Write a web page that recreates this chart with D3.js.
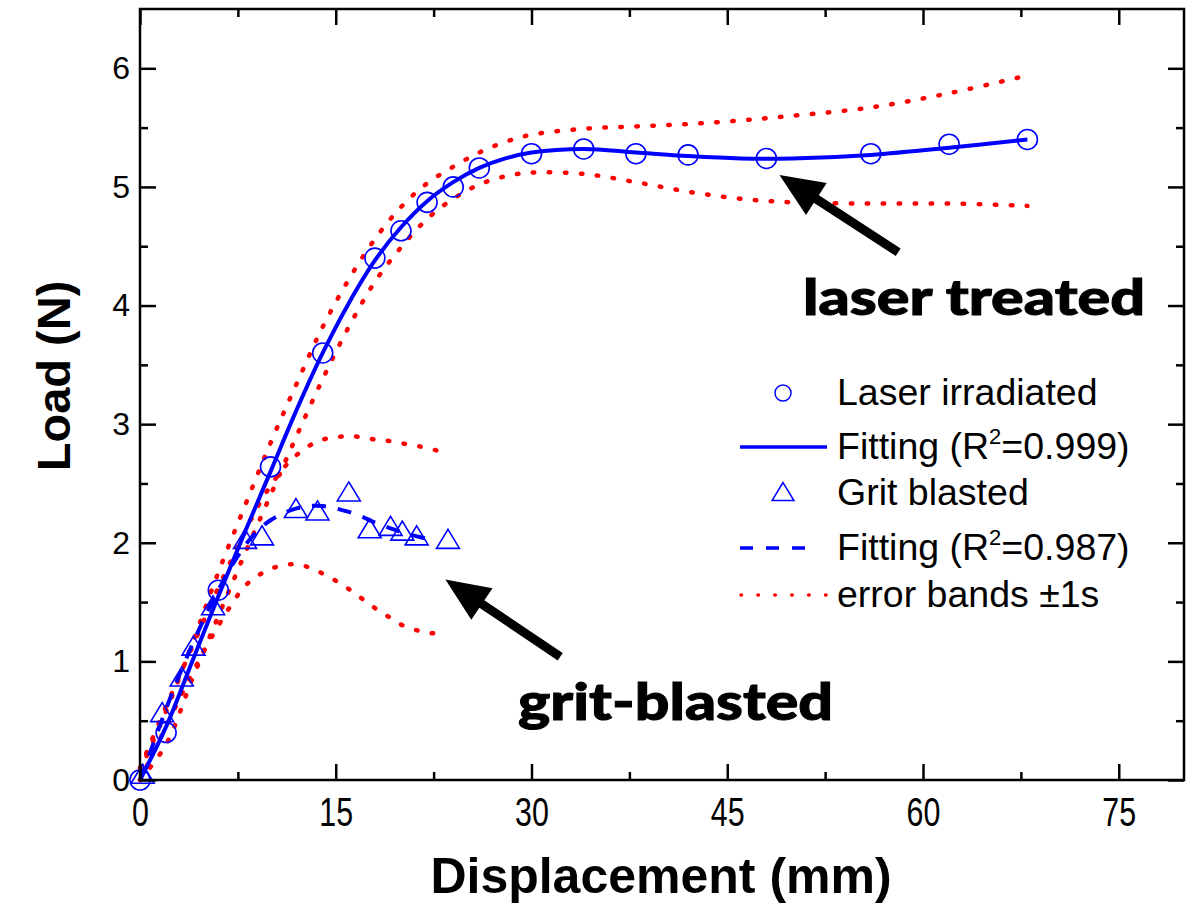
<!DOCTYPE html>
<html>
<head>
<meta charset="utf-8">
<script src="https://cdn.jsdelivr.net/npm/d3@7"></script>
<style>
  body { margin: 0; background: #fff; }
  svg { display: block; font-family: "Liberation Sans", Arial, sans-serif; }
</style>
</head>
<body>
<svg id="chart" width="1193" height="917"></svg>
<script>

// laser irradiated samples (open circles)
const laserX = [0, 2, 6, 10, 14, 18, 20, 22, 24, 26, 30, 34, 38, 42, 48, 56, 62, 68];
const laserY = [0, 0.40, 1.60, 2.64, 3.60, 4.40, 4.63, 4.87, 5.00, 5.16, 5.28, 5.32, 5.28, 5.27, 5.24, 5.28, 5.36, 5.40];

// fit + error bands for laser irradiated
const laserFitX = [0, 2, 4, 6, 8, 10, 12, 14, 16, 18, 20, 22, 24, 26, 28, 30, 34, 38, 42, 46, 50, 56, 62, 68];
const laserFitY = [0, 0.45, 1.0, 1.55, 2.08, 2.6, 3.12, 3.6, 4.02, 4.38, 4.66, 4.88, 5.04, 5.16, 5.24, 5.29, 5.32, 5.29, 5.26, 5.24, 5.24, 5.27, 5.33, 5.40];
const laserUpY  = [0.08, 0.58, 1.15, 1.75, 2.3, 2.84, 3.34, 3.82, 4.22, 4.56, 4.83, 5.03, 5.17, 5.29, 5.38, 5.44, 5.49, 5.51, 5.53, 5.56, 5.6, 5.67, 5.79, 5.94];
const laserLoY  = [0, 0.3, 0.85, 1.38, 1.9, 2.4, 2.9, 3.38, 3.82, 4.2, 4.49, 4.73, 4.9, 5.02, 5.09, 5.12, 5.11, 5.04, 4.96, 4.9, 4.87, 4.86, 4.86, 4.84];

// grit blasted samples (open triangles)
const gritX = [0.2, 1.7, 3.2, 4.1, 5.6, 8.05, 9.35, 11.95, 13.6, 16.0, 17.6, 19.2, 20.1, 21.2, 23.6];
const gritY = [0.04, 0.56, 0.86, 1.12, 1.46, 2.02, 2.05, 2.28, 2.26, 2.42, 2.11, 2.13, 2.09, 2.05, 2.02];

// fit for grit blasted
const gritFitX = [0, 1, 2, 3, 4, 5, 6, 7, 8, 9, 10, 11, 12, 13, 14, 15, 16, 17, 18, 19, 20, 21, 22.5];
const gritFitY = [0, 0.3, 0.6, 0.88, 1.14, 1.38, 1.6, 1.8, 1.97, 2.1, 2.19, 2.25, 2.29, 2.31, 2.31, 2.29, 2.26, 2.22, 2.17, 2.13, 2.09, 2.06, 2.02];

// error bands for grit blasted
const gritBandX = [0, 2, 4, 6, 8, 9, 10, 11, 12, 13, 14, 15, 16, 17, 18, 19, 20, 21, 22, 23.3];
const gritUpY   = [0.1, 0.62, 1.12, 1.62, 2.08, 2.3, 2.48, 2.63, 2.74, 2.82, 2.87, 2.89, 2.9, 2.89, 2.87, 2.86, 2.84, 2.82, 2.8, 2.76];
const gritLoY   = [0, 0.45, 0.9, 1.3, 1.63, 1.72, 1.78, 1.81, 1.82, 1.79, 1.74, 1.68, 1.61, 1.53, 1.45, 1.38, 1.31, 1.27, 1.24, 1.24];

const xMajor = [0, 15, 30, 45, 60, 75];
const xMinor = [7.5, 22.5, 37.5, 52.5, 67.5];
const yMajor = [0, 1, 2, 3, 4, 5, 6];
const yMinor = [0.5, 1.5, 2.5, 3.5, 4.5, 5.5];

const legendItems = [
  {kind: 'circle', label: 'Laser irradiated'},
  {kind: 'solid',  label: 'Fitting (R', sup: '2', tail: '=0.999)'},
  {kind: 'tri',    label: 'Grit blasted'},
  {kind: 'dash',   label: 'Fitting (R', sup: '2', tail: '=0.987)'},
  {kind: 'dot',    label: 'error bands \u00b11s'}
];

const BLUE = '#0000ff', RED = '#ff0000';

let svg = d3.select('#chart');

// plot frame in pixels
let plot = {left: 140, right: 1184, top: 9, bottom: 780};

let x = d3.scaleLinear().domain([0, 80]).range([plot.left, plot.right]);
let y = d3.scaleLinear().domain([0, 6.5]).range([plot.bottom, plot.top]);

let zip = (xs, ys) => xs.map((d, i) => [d, ys[i]]);

let line = d3.line()
  .x(d => x(d[0]))
  .y(d => y(d[1]))
  .curve(d3.curveCatmullRom.alpha(0.5));

// ---- error bands (dotted red)
let bands = [zip(laserFitX, laserUpY), zip(laserFitX, laserLoY),
             zip(gritBandX, gritUpY), zip(gritBandX, gritLoY)];

svg.append('g').attr('class', 'bands')
  .selectAll('path')
  .data(bands)
  .join('path')
    .attr('d', line)
    .attr('fill', 'none')
    .attr('stroke', RED)
    .attr('stroke-width', 4.5)
    .attr('stroke-linecap', 'round')
    .attr('stroke-dasharray', '1.5,14.5');

// ---- fits
svg.append('path')
  .attr('d', line(zip(laserFitX, laserFitY)))
  .attr('fill', 'none')
  .attr('stroke', BLUE)
  .attr('stroke-width', 4);

svg.append('path')
  .attr('d', line(zip(gritFitX, gritFitY)))
  .attr('fill', 'none')
  .attr('stroke', BLUE)
  .attr('stroke-width', 4)
  .attr('stroke-dasharray', '14,12');

// ---- markers
function triPath(s) {
  return 'M0,' + (-11 * s) + 'L' + (11.5 * s) + ',' + (8 * s) + 'L' + (-11.5 * s) + ',' + (8 * s) + 'Z';
}

svg.append('g').attr('class', 'circles')
  .selectAll('circle')
  .data(zip(laserX, laserY))
  .join('circle')
    .attr('cx', d => x(d[0]))
    .attr('cy', d => y(d[1]))
    .attr('r', 10)
    .attr('fill', 'none')
    .attr('stroke', BLUE)
    .attr('stroke-width', 1.6);

svg.append('g').attr('class', 'triangles')
  .selectAll('path')
  .data(zip(gritX, gritY))
  .join('path')
    .attr('transform', d => 'translate(' + x(d[0]) + ',' + y(d[1]) + ')')
    .attr('d', triPath(1))
    .attr('fill', 'none')
    .attr('stroke', BLUE)
    .attr('stroke-width', 1.6);

// ---- axes (ticks inward on all four sides)
function styleAxis(g) {
  g.select('.domain').remove();
  g.selectAll('.tick line').attr('stroke', '#000').attr('stroke-width', 2.5);
}

let xh = plot.bottom - plot.top, xw = plot.right - plot.left;

svg.append('g')
  .attr('transform', 'translate(0,' + plot.bottom + ')')
  .call(d3.axisBottom(x).tickValues(xMajor).tickSize(-16).tickPadding(18).tickFormat(d3.format('d')))
  .call(styleAxis)
  .call(g => g.selectAll('text')
    .attr('font-size', 40)
    .attr('font-family', '"Liberation Sans", Arial, sans-serif')
    .attr('fill', '#000')
    .attr('transform', 'scale(0.76,1)'));

svg.append('g')
  .attr('transform', 'translate(0,' + plot.bottom + ')')
  .call(d3.axisBottom(x).tickValues(xMinor).tickSize(-8).tickFormat(''))
  .call(styleAxis);

svg.append('g')
  .attr('transform', 'translate(0,' + plot.top + ')')
  .call(d3.axisTop(x).tickValues(xMajor).tickSize(-16).tickFormat(''))
  .call(styleAxis);

svg.append('g')
  .attr('transform', 'translate(0,' + plot.top + ')')
  .call(d3.axisTop(x).tickValues(xMinor).tickSize(-8).tickFormat(''))
  .call(styleAxis);

svg.append('g')
  .attr('transform', 'translate(' + plot.left + ',0)')
  .call(d3.axisLeft(y).tickValues(yMajor).tickSize(-16).tickPadding(10).tickFormat(d3.format('d')))
  .call(styleAxis)
  .call(g => g.selectAll('text')
    .attr('font-size', 32)
    .attr('font-family', '"Liberation Sans", Arial, sans-serif')
    .attr('fill', '#000'));

svg.append('g')
  .attr('transform', 'translate(' + plot.left + ',0)')
  .call(d3.axisLeft(y).tickValues(yMinor).tickSize(-8).tickFormat(''))
  .call(styleAxis);

svg.append('g')
  .attr('transform', 'translate(' + plot.right + ',0)')
  .call(d3.axisRight(y).tickValues(yMajor).tickSize(-16).tickFormat(''))
  .call(styleAxis);

svg.append('g')
  .attr('transform', 'translate(' + plot.right + ',0)')
  .call(d3.axisRight(y).tickValues(yMinor).tickSize(-8).tickFormat(''))
  .call(styleAxis);

svg.append('rect')
  .attr('x', plot.left).attr('y', plot.top)
  .attr('width', xw).attr('height', xh)
  .attr('fill', 'none')
  .attr('stroke', '#000')
  .attr('stroke-width', 2.5);

// ---- axis titles
svg.append('text')
  .attr('x', (plot.left + plot.right) / 2 - 1)
  .attr('y', 893)
  .attr('text-anchor', 'middle')
  .attr('font-size', 50)
  .attr('font-weight', 'bold')
  .text('Displacement (mm)');

svg.append('text')
  .attr('transform', 'translate(70,376) rotate(-90)')
  .attr('text-anchor', 'middle')
  .attr('font-size', 47)
  .attr('font-weight', 'bold')
  .text('Load (N)');

// ---- legend
let legend = svg.append('g').attr('class', 'legend');
let rowsY = [393, 447, 493, 548, 595];

legendItems.forEach(function(item, i) {
  let g = legend.append('g').attr('transform', 'translate(0,' + rowsY[i] + ')');

  if (item.kind == 'circle')
    g.append('circle').attr('cx', 783).attr('r', 8)
      .attr('fill', 'none').attr('stroke', BLUE).attr('stroke-width', 1.5);
  if (item.kind == 'tri')
    g.append('path').attr('transform', 'translate(783,0)').attr('d', triPath(0.95))
      .attr('fill', 'none').attr('stroke', BLUE).attr('stroke-width', 1.5);
  if (item.kind == 'solid')
    g.append('line').attr('x1', 740).attr('x2', 827)
      .attr('stroke', BLUE).attr('stroke-width', 3.5);
  if (item.kind == 'dash')
    g.append('line').attr('x1', 740).attr('x2', 810)
      .attr('stroke', BLUE).attr('stroke-width', 3.5).attr('stroke-dasharray', '13,13');
  if (item.kind == 'dot')
    g.append('line').attr('x1', 741).attr('x2', 826)
      .attr('stroke', RED).attr('stroke-width', 3.5)
      .attr('stroke-linecap', 'round').attr('stroke-dasharray', '0.5,16.4');

  let t = g.append('text')
    .attr('x', 837)
    .attr('y', 12)
    .attr('font-size', 37.5)
    .attr('fill', '#000')
    .text(item.label);
  if (item.sup) {
    t.append('tspan').attr('font-size', 22).attr('dy', -15).text(item.sup);
    t.append('tspan').attr('dy', 15).text(item.tail);
  }
});

// ---- annotations
function arrow(tail, tip) {
  let p0 = [x(tail[0]), y(tail[1])], p1 = [x(tip[0]), y(tip[1])];
  let ang = Math.atan2(p1[1] - p0[1], p1[0] - p0[0]);
  let len = Math.hypot(p1[0] - p0[0], p1[1] - p0[1]);
  let g = svg.append('g')
    .attr('transform', 'translate(' + p0[0] + ',' + p0[1] + ') rotate(' + (ang * 180 / Math.PI) + ')');
  g.append('line').attr('x1', 0).attr('x2', len - 30)
    .attr('stroke', '#000').attr('stroke-width', 9);
  g.append('path')
    .attr('d', 'M' + len + ',0L' + (len - 44) + ',-19L' + (len - 44) + ',19Z')
    .attr('fill', '#000');
}

arrow([58.1, 4.45], [49.0, 5.10]);
arrow([32.2, 1.04], [23.4, 1.69]);

svg.append('text')
  .attr('x', 803).attr('y', 315)
  .attr('font-family', 'Lato, "Open Sans", sans-serif')
  .attr('font-weight', 900)
  .attr('font-size', 50)
  .attr('stroke', '#000')
  .attr('stroke-width', 1)
  .attr('textLength', 342)
  .attr('lengthAdjust', 'spacingAndGlyphs')
  .text('laser treated');

svg.append('text')
  .attr('x', 518).attr('y', 720)
  .attr('font-family', 'Lato, "Open Sans", sans-serif')
  .attr('font-weight', 900)
  .attr('font-size', 52)
  .attr('stroke', '#000')
  .attr('stroke-width', 1)
  .attr('textLength', 315)
  .attr('lengthAdjust', 'spacingAndGlyphs')
  .text('grit-blasted');

</script>
</body>
</html>
